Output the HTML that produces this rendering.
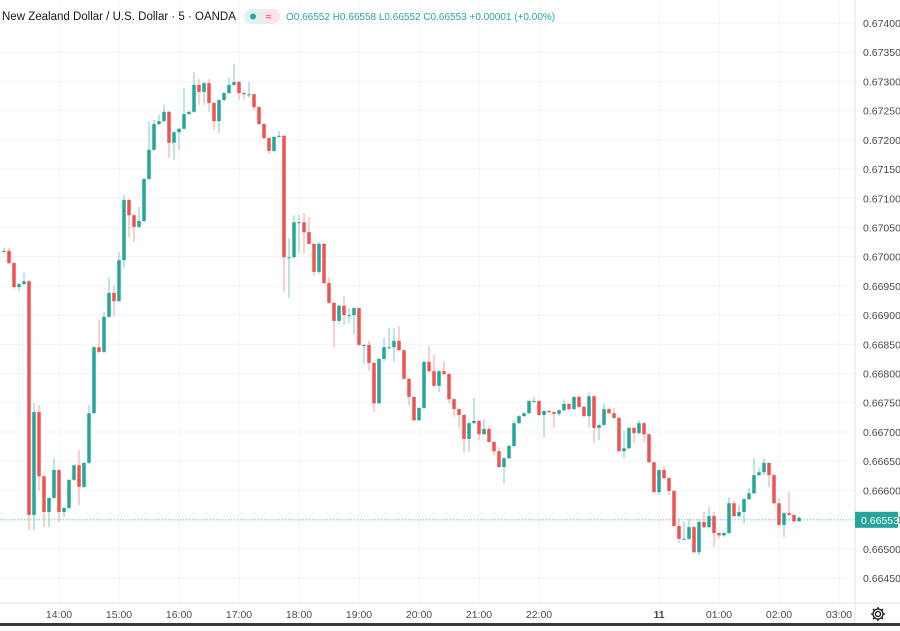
<!DOCTYPE html>
<html><head><meta charset="utf-8">
<style>
html,body{margin:0;padding:0;background:#fff;}
body{width:900px;height:626px;overflow:hidden;font-family:"Liberation Sans",sans-serif;}
svg text{font-family:"Liberation Sans",sans-serif;}
</style></head>
<body>
<svg id="chart" width="900" height="626" xmlns="http://www.w3.org/2000/svg">
  <rect x="0" y="0" width="900" height="626" fill="#ffffff"/>
  <g id="grid"></g>
  <g id="candles"></g>
  <line x1="855" y1="0" x2="855" y2="623" stroke="#e0e3eb"/>
  <line x1="0" y1="603" x2="900" y2="603" stroke="#e0e3eb"/>
  <g id="yaxis"></g>
  <g id="xaxis"></g>
  <g>
    <text x="2" y="20" font-size="11.5" fill="#131722">New Zealand Dollar / U.S. Dollar · 5 · OANDA</text>
    <rect x="244" y="9" width="36" height="15" rx="7.5" fill="#e0f2ef"/>
    <rect x="262" y="9" width="18" height="15" rx="7.5" fill="#fde4ea"/>
    <circle cx="253" cy="16.5" r="3" fill="#26a69a"/>
    <text x="266" y="20" font-size="10" fill="#e91e63">≈</text>
    <text x="286" y="20" font-size="10" fill="#26a69a">O0.66552 H0.66558 L0.66552 C0.66553 +0.00001 (+0.00%)</text>
  </g>
  <g fill="none" stroke="#131722" stroke-width="1.3">
    <circle cx="878" cy="614" r="2.5"/>
    <circle cx="878" cy="614" r="5"/>
    <path d="M878 607v2.5M878 618.5v2.5M871 614h2.5M882.5 614h2.5M873 609l1.8 1.8M881.2 617.2l1.8 1.8M873 619l1.8-1.8M881.2 610.8l1.8-1.8"/>
  </g>
  <rect x="0" y="623" width="900" height="3" fill="#3a3a3a"/>
</svg>
<script>
var openFirst = 0.67010;
var closes = [0.67010,0.66989,0.66948,0.66953,0.66958,0.66558,0.66734,0.66624,0.66563,0.66587,
0.66635,0.66563,0.66570,0.66618,0.66643,0.66606,0.66647,0.66732,0.66845,0.66837,
0.66897,0.66938,0.66924,0.66994,0.67097,0.67071,0.67051,0.67061,0.67133,0.67183,
0.67227,0.67232,0.67248,0.67195,0.67213,0.67219,0.67244,0.67248,0.67294,0.67282,
0.67297,0.67263,0.67232,0.67268,0.67280,0.67294,0.67299,0.67280,0.67278,0.67278,
0.67256,0.67227,0.67203,0.67181,0.67205,0.67207,0.66999,0.66999,0.67059,0.67059,
0.67042,0.67022,0.66974,0.67022,0.66955,0.66921,0.66890,0.66916,0.66900,0.66900,
0.66912,0.66849,0.66849,0.66818,0.66749,0.66825,0.66845,0.66845,0.66856,0.66840,
0.66791,0.66760,0.66720,0.66741,0.66820,0.66804,0.66779,0.66804,0.66799,0.66756,
0.66739,0.66729,0.66688,0.66715,0.66719,0.66696,0.66705,0.66683,0.66667,0.66640,
0.66655,0.66676,0.66715,0.66727,0.66732,0.66753,0.66753,0.66729,0.66736,0.66734,
0.66731,0.66737,0.66748,0.66739,0.66760,0.66743,0.66727,0.66761,0.66707,0.66712,
0.66739,0.66732,0.66724,0.66667,0.66672,0.66707,0.66698,0.66715,0.66696,0.66648,
0.66597,0.66635,0.66621,0.66599,0.66539,0.66517,0.66517,0.66537,0.66494,0.66546,
0.66537,0.66556,0.66527,0.66523,0.66527,0.66578,0.66556,0.66563,0.66585,0.66595,
0.66626,0.66631,0.66647,0.66626,0.66578,0.66541,0.66561,0.66558,0.66547,0.66553];
var highs = [0.67015,0.67015,0.66991,0.66955,0.66972,0.66960,0.66749,0.66746,0.66626,0.66588,
0.66655,0.66636,0.66571,0.66619,0.66645,0.66669,0.66648,0.66746,0.66847,0.66892,
0.66905,0.66965,0.66951,0.67008,0.67106,0.67099,0.67073,0.67085,0.67135,0.67231,
0.67234,0.67243,0.67260,0.67249,0.67215,0.67220,0.67289,0.67249,0.67316,0.67304,
0.67299,0.67304,0.67265,0.67270,0.67282,0.67306,0.67330,0.67301,0.67282,0.67299,
0.67280,0.67258,0.67229,0.67205,0.67207,0.67215,0.67208,0.67032,0.67071,0.67071,
0.67075,0.67068,0.67023,0.67025,0.67023,0.66965,0.66922,0.66917,0.66933,0.66912,
0.66914,0.66914,0.66850,0.66856,0.66820,0.66827,0.66861,0.66878,0.66878,0.66881,
0.66840,0.66792,0.66761,0.66743,0.66821,0.66847,0.66832,0.66806,0.66821,0.66801,
0.66758,0.66741,0.66731,0.66717,0.66758,0.66720,0.66722,0.66710,0.66684,0.66674,
0.66657,0.66678,0.66720,0.66729,0.66734,0.66755,0.66760,0.66755,0.66737,0.66737,
0.66736,0.66739,0.66756,0.66749,0.66761,0.66763,0.66744,0.66767,0.66763,0.66713,
0.66748,0.66741,0.66741,0.66726,0.66703,0.66708,0.66708,0.66720,0.66717,0.66698,
0.66650,0.66636,0.66642,0.66623,0.66600,0.66553,0.66546,0.66551,0.66539,0.66551,
0.66563,0.66571,0.66563,0.66529,0.66529,0.66588,0.66582,0.66575,0.66587,0.66604,
0.66655,0.66638,0.66655,0.66648,0.66628,0.66587,0.66563,0.66597,0.66559,0.66556];
var lows = [0.67006,0.66987,0.66945,0.66941,0.66951,0.66532,0.66532,0.66600,0.66537,0.66537,
0.66585,0.66546,0.66554,0.66568,0.66616,0.66575,0.66604,0.66645,0.66731,0.66835,
0.66835,0.66895,0.66897,0.66922,0.66981,0.67034,0.67025,0.67049,0.67059,0.67131,
0.67181,0.67225,0.67231,0.67169,0.67165,0.67183,0.67217,0.67243,0.67246,0.67260,
0.67260,0.67248,0.67217,0.67212,0.67266,0.67278,0.67292,0.67268,0.67268,0.67272,
0.67251,0.67225,0.67201,0.67176,0.67179,0.67203,0.66940,0.66929,0.66998,0.67006,
0.67006,0.67020,0.66967,0.66970,0.66953,0.66919,0.66844,0.66885,0.66883,0.66886,
0.66866,0.66847,0.66816,0.66804,0.66734,0.66748,0.66820,0.66842,0.66820,0.66839,
0.66789,0.66746,0.66719,0.66719,0.66739,0.66802,0.66777,0.66768,0.66797,0.66749,
0.66726,0.66708,0.66664,0.66666,0.66713,0.66686,0.66695,0.66681,0.66660,0.66638,
0.66612,0.66654,0.66674,0.66713,0.66726,0.66731,0.66749,0.66727,0.66691,0.66732,
0.66707,0.66727,0.66736,0.66737,0.66737,0.66741,0.66726,0.66708,0.66681,0.66686,
0.66710,0.66731,0.66722,0.66666,0.66655,0.66671,0.66681,0.66696,0.66683,0.66647,
0.66595,0.66592,0.66619,0.66592,0.66537,0.66510,0.66515,0.66515,0.66493,0.66489,
0.66535,0.66535,0.66503,0.66518,0.66520,0.66525,0.66554,0.66553,0.66544,0.66583,
0.66594,0.66624,0.66626,0.66606,0.66576,0.66539,0.66520,0.66556,0.66546,0.66547];
var priceTicks = [0.67400,0.67350,0.67300,0.67250,0.67200,0.67150,0.67100,0.67050,0.67000,0.66950,0.66900,0.66850,0.66800,0.66750,0.66700,0.66650,0.66600,0.66550,0.66500,0.66450];
var timeLabels = ["14:00","15:00","16:00","17:00","18:00","19:00","20:00","21:00","22:00","11","01:00","02:00","03:00"];
var timeLabelIndex = [11,23,35,47,59,71,83,95,107,131,143,155,167];
var lastPrice = 0.66553;

var NS = "http://www.w3.org/2000/svg";
function yOf(p){ return 23 + (0.67400 - p) * 58420; }
function xOf(i){ return 4 + 5 * i; }
function mk(tag, attrs, parent){
  var e = document.createElementNS(NS, tag);
  for (var k in attrs) e.setAttribute(k, attrs[k]);
  parent.appendChild(e); return e;
}
var grid = document.getElementById('grid');
var yaxis = document.getElementById('yaxis');
var xaxis = document.getElementById('xaxis');
var cg = document.getElementById('candles');

priceTicks.forEach(function(p){
  var y = yOf(p);
  var gl = mk('line', {x1:0, x2:855, y1:y, y2:y, stroke:'#f0f3fa', 'stroke-width':1}, grid);
  
  
  var t = mk('text', {x:863, y:y+4, 'font-size':10.5, fill:'#4a4a4a'}, yaxis);
  t.textContent = p.toFixed(5);
  
  
});
timeLabels.forEach(function(lbl, k){
  var x = xOf(timeLabelIndex[k]);
  var gl = mk('line', {x1:x, x2:x, y1:0, y2:603, stroke:'#f0f3fa', 'stroke-width':1}, grid);
  
  
  var t = mk('text', {x:x, y:618, 'font-size':10.5, fill:'#4a4a4a', 'text-anchor':'middle', 'font-weight': lbl==="11" ? 'bold' : 'normal'}, xaxis);
  t.textContent = lbl;
  
  
});

(function(){
  for (var i = 0; i < closes.length; i++){
    var o = i === 0 ? openFirst : closes[i-1];
    var c = closes[i];
    var up = c >= o;
    var col = up ? '#26a69a' : '#ef5350';
    var x = xOf(i);
    var w = mk('line', {x1:x, x2:x, y1:yOf(highs[i]), y2:yOf(lows[i]), stroke: up ? '#7fcbc4' : '#f2a09e', 'stroke-width':1}, cg);
    
    
    var bodyTop = yOf(Math.max(o,c)), bodyBot = yOf(Math.min(o,c));
    var b = mk('rect', {x:x-1.75, y:bodyTop, width:3.5, height:Math.max(1, bodyBot-bodyTop), fill:col}, cg);
    
    
  }
})();

var ly = yOf(lastPrice) + 2;
var pl = mk('line', {x1:0, x2:855, y1:ly, y2:ly, stroke:'#26a69a', 'stroke-width':1, 'stroke-dasharray':'1 2', opacity:0.7}, grid);


var box = mk('rect', {x:855, y:ly-8, width:43, height:16, fill:'#26a69a'}, yaxis);


var bt = mk('text', {x:861, y:ly+4, 'font-size':10.5, fill:'#ffffff'}, yaxis);
bt.textContent = lastPrice.toFixed(5);


</script>
</body></html>
